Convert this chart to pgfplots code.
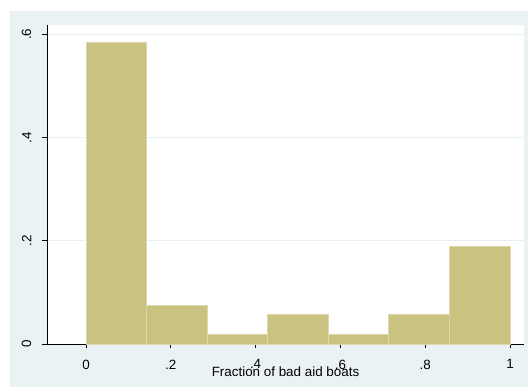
\documentclass[border=0pt]{standalone}
\usepackage{fontspec}
\setmainfont{Liberation Sans}
\usepackage{pgfplots}
\pgfplotsset{compat=1.18}
\definecolor{bgblue}{RGB}{234,242,243}
\definecolor{barfill}{RGB}{201,194,128}
\definecolor{baredge}{RGB}{220,215,172}
\definecolor{gridc}{RGB}{232,240,242}
\begin{document}
\begin{tikzpicture}[x=1pt,y=1pt]
\fill[white] (0,0) rectangle (528,388);
\fill[bgblue] (10,1) rectangle (528,377);
\begin{axis}[
  at={(47pt,44pt)}, anchor=south west,
  scale only axis, width=477pt, height=319pt,
  xmin=-0.092, xmax=1.033, ymin=0, ymax=0.618,
  axis background/.style={fill=white},
  axis x line*=bottom, axis y line*=left,
  axis line style={black, line width=0.9pt},
  tick align=outside, major tick length=4.5pt,
  tick style={black, line width=0.9pt},
  xtick={0,0.2,0.4,0.6,0.8,1},
  xticklabels={0,.2,.4,.6,.8,1},
  ytick={0,0.2,0.4,0.6},
  yticklabels={0,.2,.4,.6},
  ymajorgrids, grid style={gridc, line width=0.9pt},
  /pgf/number format/assume math mode=true,
  ticklabel style={font=\fontsize{13.4}{16}\selectfont, inner sep=0pt},
  xticklabel style={anchor=north},
  xticklabel shift=11pt,
  yticklabel style={rotate=90, anchor=south},
  yticklabel shift=11pt,
  xlabel={Fraction of bad aid boats},
  xlabel style={font=\fontsize{13.4}{16}\selectfont, inner sep=0pt, at={(axis description cs:0.5,0)}, anchor=north, yshift=-23pt},
  clip=false,
]
\addplot[ybar interval, fill=barfill, draw=baredge, line width=0.8pt] coordinates {
(0,0.5849)
(0.142857,0.0755)
(0.285714,0.0189)
(0.428571,0.0566)
(0.571429,0.0189)
(0.714286,0.0566)
(0.857143,0.1887)
(1,0)
};
\end{axis}
\end{tikzpicture}
\end{document}
